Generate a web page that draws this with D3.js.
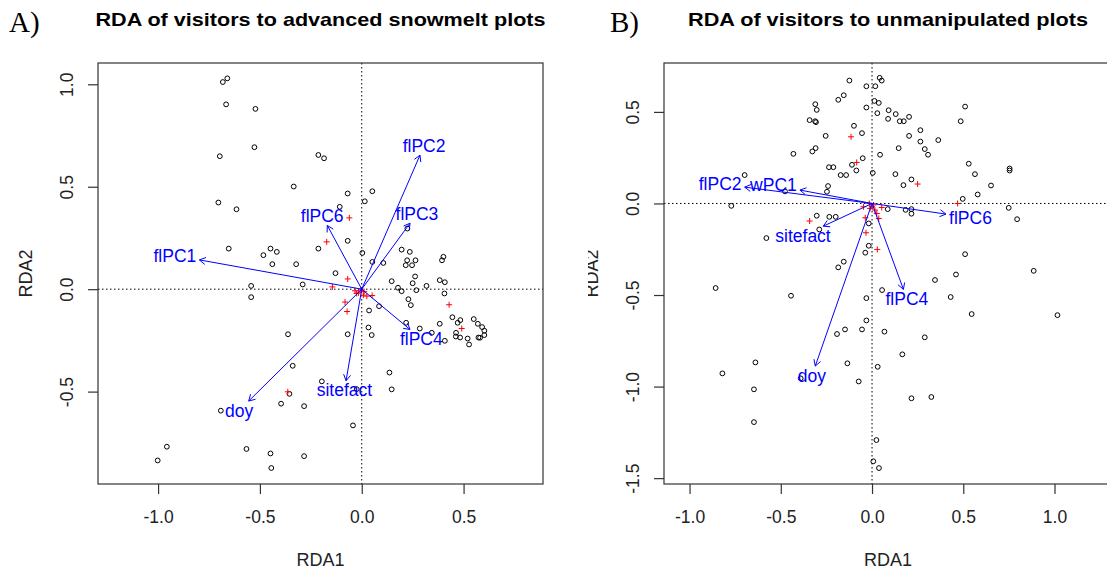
<!DOCTYPE html>
<html>
<head>
<meta charset="utf-8">
<script src="https://cdn.jsdelivr.net/npm/d3@7"></script>
<style>
  body { margin: 0; background: #fff; }
  text { font-family: "Liberation Sans", Arial, sans-serif; }
</style>
</head>
<body>
<svg id="chart" width="1107" height="573"></svg>
<script>
// ---- panel A: advanced snowmelt plots ----
const limA_x = [-1.295, 0.89];
const limA_y = [-0.951, 1.104];
const ticksA_x = [-1.0, -0.5, 0.0, 0.5];
const ticksA_y = [-0.5, 0.0, 0.5, 1.0];

const sitesA_x = [-0.682, -0.660, -0.666, -0.522, -0.697, -0.527, -0.213, -0.185, -0.334, -0.704,
  -0.615, -0.069, 0.052, 0.015, -0.108, -0.069, -0.653, -0.448, -0.417, -0.483,
  -0.439, -0.322, -0.213, 0.003, 0.052, 0.106, -0.129, -0.290, -0.543, -0.543,
  0.196, 0.236, 0.223, 0.264, 0.216, 0.247, 0.224, 0.401, 0.394, 0.262,
  0.147, 0.250, 0.318, 0.383, 0.408, 0.178, 0.196, 0.268, 0.406, 0.229,
  0.241, 0.085, 0.036, 0.445, 0.471, 0.484, 0.550, 0.570, 0.591, 0.602,
  0.602, 0.581, 0.573, 0.463, 0.462, 0.483, 0.520, 0.527, 0.408, 0.383,
  0.344, 0.285, 0.218, 0.033, 0.049, -0.069, -0.362, -0.339, -0.196, -0.355,
  -0.396, -0.283, -0.025, 0.136, 0.147, -0.043, -0.692, -0.957, -1.002, -0.566,
  -0.448, -0.444, -0.283];
const sitesA_y = [1.011, 1.029, 0.902, 0.880, 0.649, 0.693, 0.655, 0.639, 0.501, 0.423,
  0.390, 0.467, 0.478, 0.429, 0.402, 0.236, 0.198, 0.198, 0.182, 0.166,
  0.122, 0.122, 0.198, 0.177, 0.133, 0.128, 0.078, 0.023, 0.016, -0.039,
  0.193, 0.182, 0.141, 0.141, 0.117, 0.117, 0.296, 0.158, 0.141, 0.062,
  0.039, 0.029, 0.016, 0.044, 0.034, 0.007, -0.010, -0.005, -0.021, -0.049,
  -0.078, -0.083, -0.104, -0.137, -0.164, -0.151, -0.146, -0.169, -0.185, -0.203,
  -0.224, -0.237, -0.236, -0.213, -0.231, -0.236, -0.241, -0.270, -0.252, -0.169,
  -0.213, -0.192, -0.164, -0.187, -0.224, -0.220, -0.220, -0.374, -0.450, -0.511,
  -0.559, -0.571, -0.488, -0.407, -0.489, -0.665, -0.593, -0.769, -0.836, -0.780,
  -0.802, -0.873, -0.815];

const centA_x = [-0.061, -0.172, -0.069, -0.144, 0.051, -0.082, -0.072, 0.429, 0.491, -0.363,
  -0.033, -0.016, -0.005, 0.008, -0.025, 0.025, 0.012];
const centA_y = [0.348, 0.231, 0.050, 0.011, -0.031, -0.063, -0.109, -0.076, -0.192, -0.501,
  -0.008, -0.018, -0.005, -0.029, -0.021, -0.034, -0.012];

const arrowsA_name = ["flPC1", "flPC2", "flPC3", "flPC6", "flPC4", "sitefact", "doy"];
const arrowsA_x = [-0.797, 0.286, 0.237, -0.169, 0.237, -0.077, -0.555];
const arrowsA_y = [0.143, 0.654, 0.322, 0.311, -0.197, -0.447, -0.546];

// ---- panel B: unmanipulated plots ----
const limB_x = [-1.14, 1.315];
const limB_y = [-1.532, 0.767];
const ticksB_x = [-1.0, -0.5, 0.0, 0.5, 1.0];
const ticksB_y = [-1.5, -1.0, -0.5, 0.0, 0.5];

const sitesB_x = [-0.124, 0.042, 0.053, -0.031, 0.018, -0.155, -0.185, -0.311, -0.303, 0.013,
  0.037, -0.031, 0.029, 0.091, 0.130, 0.088, 0.152, 0.174, 0.203, -0.342,
  -0.312, -0.307, -0.099, -0.055, -0.254, 0.203, 0.265, 0.265, 0.363, 0.146,
  0.289, 0.307, 0.044, -0.309, -0.327, -0.431, 0.510, 0.486, -0.051, -0.110,
  -0.086, -0.236, -0.212, -0.172, -0.142, 0.004, 0.128, 0.216, 0.172, 0.530,
  0.564, 0.652, 0.754, 0.754, -0.698, -0.241, -0.247, -0.477, -0.771, 0.579,
  0.497, 0.749, 0.795, 0.086, 0.184, 0.216, 0.216, -0.303, -0.234, -0.199,
  -0.289, -0.579, -0.018, -0.018, -0.037, -0.155, -0.185, 0.510, 0.460, 0.345,
  0.886, -0.857, -0.444, 0.055, -0.031, 0.431, 0.546, 1.016, -0.031, -0.148,
  -0.192, -0.055, 0.068, 0.289, 0.166, -0.135, 0.031, -0.073, -0.639, -0.820,
  -0.647, -0.647, 0.216, 0.325, 0.024, 0.007, 0.038, -0.391];
const sitesB_y = [0.671, 0.686, 0.671, 0.640, 0.640, 0.591, 0.566, 0.542, 0.511, 0.560,
  0.549, 0.524, 0.493, 0.509, 0.488, 0.462, 0.449, 0.449, 0.473, 0.455,
  0.449, 0.444, 0.424, 0.384, 0.369, 0.369, 0.400, 0.338, 0.346, 0.302,
  0.297, 0.266, 0.266, 0.302, 0.284, 0.271, 0.529, 0.449, 0.247, 0.211,
  0.180, 0.198, 0.198, 0.155, 0.155, 0.167, 0.160, 0.131, 0.100, 0.217,
  0.160, 0.098, 0.191, 0.180, 0.155, 0.095, 0.064, 0.066, -0.013, 0.049,
  0.025, -0.024, -0.086, -0.031, -0.035, -0.031, -0.056, -0.067, -0.073, -0.073,
  -0.142, -0.189, -0.109, -0.231, -0.269, -0.318, -0.349, -0.277, -0.388, -0.418,
  -0.368, -0.462, -0.504, -0.473, -0.517, -0.511, -0.604, -0.610, -0.639, -0.688,
  -0.713, -0.688, -0.700, -0.731, -0.824, -0.873, -0.892, -0.972, -0.868, -0.928,
  -1.015, -1.194, -1.064, -1.057, -1.292, -1.408, -1.445, -0.955];

const centB_x = [-0.115, -0.084, 0.250, 0.469, -0.342, -0.037, -0.033, 0.029, 0.037, 0.053,
  -0.015, 0.000, 0.016, 0.026, -0.011, -0.047, 0.008];
const centB_y = [0.364, 0.224, 0.106, 0.000, -0.096, -0.078, -0.160, -0.251, -0.082, -0.022,
  0.000, -0.018, -0.036, -0.055, -0.027, -0.018, -0.008];

const arrowsB_name = ["flPC2", "wPC1", "sitefact", "doy", "flPC4", "flPC6"];
const arrowsB_x = [-0.698, -0.395, -0.267, -0.311, 0.172, 0.405];
const arrowsB_y = [0.089, 0.073, -0.124, -0.888, -0.469, -0.058];

const svg = d3.select('#chart');
svg.append('rect').attr('width', 1107).attr('height', 573).attr('fill', '#fff');

const LABEL_FS = 17.5;
const fmt = d => d.toFixed(1);

function drawPanel(p) {
  const g = svg.append('g');
  if (p.clipLeft != null) {
    svg.append('clipPath').attr('id', p.id + '-clip')
      .append('rect').attr('x', p.clipLeft).attr('y', 0).attr('width', 1107).attr('height', 573);
    g.attr('clip-path', `url(#${p.id}-clip)`);
  }

  const x = d3.scaleLinear().domain(p.xlim).range([p.left, p.right]);
  const y = d3.scaleLinear().domain(p.ylim).range([p.bottom, p.top]);

  // clip for the plotting region
  svg.append('clipPath').attr('id', p.id + '-plot')
    .append('rect').attr('x', p.left).attr('y', p.top)
    .attr('width', p.right - p.left).attr('height', p.bottom - p.top);
  const plot = g.append('g').attr('clip-path', `url(#${p.id}-plot)`);

  // dotted zero lines
  plot.append('line')
    .attr('x1', p.left).attr('x2', p.right).attr('y1', y(0)).attr('y2', y(0))
    .attr('stroke', '#000').attr('stroke-width', 1).attr('stroke-dasharray', '1.5,2.5');
  plot.append('line')
    .attr('y1', p.top).attr('y2', p.bottom).attr('x1', x(0)).attr('x2', x(0))
    .attr('stroke', '#000').attr('stroke-width', 1).attr('stroke-dasharray', '1.5,2.5');

  // site scores
  plot.append('g').selectAll('circle')
    .data(d3.range(p.sx.length))
    .enter().append('circle')
    .attr('cx', i => x(p.sx[i]))
    .attr('cy', i => y(p.sy[i]))
    .attr('r', 2.4)
    .attr('fill', 'none')
    .attr('stroke', '#000')
    .attr('stroke-width', 1);

  // constraint scores (red crosses)
  plot.append('g').selectAll('path')
    .data(d3.range(p.cx.length))
    .enter().append('path')
    .attr('d', i => `M${x(p.cx[i]) - 3},${y(p.cy[i])}h6M${x(p.cx[i])},${y(p.cy[i]) - 3}v6`)
    .attr('stroke', '#ff0000')
    .attr('stroke-width', 1);

  // biplot arrows
  const ox = x(0), oy = y(0);
  const arrows = plot.append('g');
  p.an.forEach((name, i) => {
    const tx = x(p.ax[i]), ty = y(p.ay[i]);
    const ang = Math.atan2(ty - oy, tx - ox);
    const hl = 7, ha = Math.PI / 6;
    const h1x = tx - hl * Math.cos(ang - ha), h1y = ty - hl * Math.sin(ang - ha);
    const h2x = tx - hl * Math.cos(ang + ha), h2y = ty - hl * Math.sin(ang + ha);
    arrows.append('path')
      .attr('d', `M${ox},${oy}L${tx},${ty}M${h1x},${h1y}L${tx},${ty}L${h2x},${h2y}`)
      .attr('fill', 'none')
      .attr('stroke', '#0000ff')
      .attr('stroke-width', 1);

    // label placed just beyond the arrow head (vegan ordiArrowTextXY style)
    const lbl = arrows.append('text')
      .attr('font-size', LABEL_FS)
      .attr('fill', '#0000ff')
      .attr('text-anchor', 'middle')
      .attr('dy', '0.36em')
      .text(name);
    const w = lbl.node().getComputedTextLength();
    const h = 0.72 * LABEL_FS;
    const vx = tx - ox, vy = oy - ty;
    const b = vy / vx;
    let off1 = Math.sign(vx) * (w / 2 + h / 4);
    let off2 = 0.75 * h * Math.sign(vy);
    const move = off2 / b;
    if (isFinite(move) && Math.abs(move) <= Math.abs(off1)) off1 = move;
    else off2 = b * off1;
    lbl.attr('x', tx + off1).attr('y', ty - off2);
  });

  // box
  g.append('rect')
    .attr('x', p.left).attr('y', p.top)
    .attr('width', p.right - p.left).attr('height', p.bottom - p.top)
    .attr('fill', 'none').attr('stroke', '#333').attr('stroke-width', 1.2);

  // axes
  const xa = g.append('g')
    .attr('transform', `translate(0,${p.bottom})`)
    .call(d3.axisBottom(x).tickValues(p.xt).tickSize(10).tickPadding(16.5).tickFormat(fmt));
  const ya = g.append('g')
    .attr('transform', `translate(${p.left},0)`)
    .call(d3.axisLeft(y).tickValues(p.yt).tickSize(10).tickFormat(fmt));
  [xa, ya].forEach(a => {
    a.select('.domain').remove();
    a.selectAll('line').attr('stroke', '#333').attr('stroke-width', 1.2);
    a.selectAll('text').attr('font-size', 17.5).attr('fill', '#222')
      .style('font-family', '"Liberation Sans", Arial, sans-serif');
  });
  ya.selectAll('text')
    .attr('text-anchor', 'middle')
    .attr('transform', 'rotate(-90)')
    .attr('x', 0).attr('y', -25).attr('dy', 0);

  const cx = (p.left + p.right) / 2;
  // axis titles
  g.append('text').attr('x', cx).attr('y', 566)
    .attr('text-anchor', 'middle').attr('font-size', 18).attr('fill', '#222')
    .text('RDA1');
  g.append('text')
    .attr('transform', `translate(${p.left - 66},${(p.top + p.bottom) / 2}) rotate(-90)`)
    .attr('text-anchor', 'middle').attr('font-size', 18).attr('fill', '#222')
    .text('RDA2');

  // main title
  g.append('text').attr('x', cx).attr('y', 26)
    .attr('text-anchor', 'middle').attr('font-size', 19).attr('font-weight', 'bold')
    .attr('textLength', p.titleLen).attr('lengthAdjust', 'spacingAndGlyphs')
    .text(p.title);

  // panel letter
  svg.append('text').attr('x', p.letterX).attr('y', 32)
    .attr('font-size', 29).style('font-family', '"Liberation Serif", "Times New Roman", serif')
    .text(p.letter);
}

drawPanel({
  id: 'pa', left: 98, right: 543, top: 63, bottom: 484,
  xlim: limA_x, ylim: limA_y, xt: ticksA_x, yt: ticksA_y,
  sx: sitesA_x, sy: sitesA_y, cx: centA_x, cy: centA_y,
  an: arrowsA_name, ax: arrowsA_x, ay: arrowsA_y,
  title: 'RDA of visitors to advanced snowmelt plots', titleLen: 450,
  letter: 'A)', letterX: 9
});

drawPanel({
  id: 'pb', left: 664, right: 1112, top: 63, bottom: 484, clipLeft: 588,
  xlim: limB_x, ylim: limB_y, xt: ticksB_x, yt: ticksB_y,
  sx: sitesB_x, sy: sitesB_y, cx: centB_x, cy: centB_y,
  an: arrowsB_name, ax: arrowsB_x, ay: arrowsB_y,
  title: 'RDA of visitors to unmanipulated plots', titleLen: 400,
  letter: 'B)', letterX: 610
});
</script>
</body>
</html>
